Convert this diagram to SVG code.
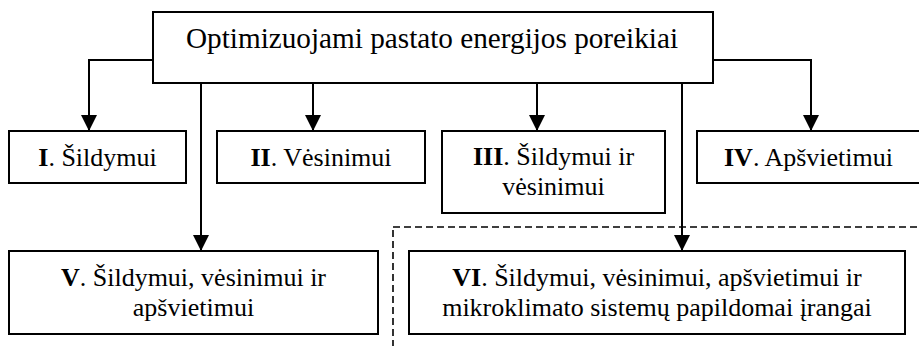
<svg xmlns="http://www.w3.org/2000/svg" width="919" height="346" viewBox="0 0 919 346">
<style>
.box{fill:#fff;stroke:#000;stroke-width:2}
.dash{fill:none;stroke:#000;stroke-width:1.6;stroke-dasharray:7 4}
.con{fill:none;stroke:#000;stroke-width:2}
.t{font-family:'Liberation Serif','Times New Roman',Tinos,'DejaVu Serif',serif;font-size:26px;fill:#000;text-anchor:middle}
.b{font-weight:bold}
</style>
<defs>
<marker id="arr" markerUnits="userSpaceOnUse" markerWidth="16" markerHeight="16" viewBox="0 0 16 16" refX="16" refY="8" orient="auto">
<path d="M0,0 L16,8 L0,16 Z" fill="#000"/>
</marker>
</defs>
<rect class="dash" x="393" y="227" width="560" height="160"/>
<g id="connectors">
<polyline class="con" points="153,60 89,60 89,131" marker-end="url(#arr)"/>
<line class="con" x1="313" y1="83" x2="313" y2="131" marker-end="url(#arr)"/>
<line class="con" x1="201" y1="83" x2="201" y2="251" marker-end="url(#arr)"/>
<line class="con" x1="537" y1="83" x2="537" y2="131" marker-end="url(#arr)"/>
<line class="con" x1="682" y1="83" x2="682" y2="251" marker-end="url(#arr)"/>
<polyline class="con" points="713,60 811,60 811,131" marker-end="url(#arr)"/>
</g>
<g id="top">
<rect class="box" x="153" y="12" width="560" height="71"/>
<text class="t" x="432" y="48" style="font-size:29px" textLength="492" lengthAdjust="spacingAndGlyphs">Optimizuojami pastato energijos poreikiai</text>
</g>
<g id="n1">
<rect class="box" x="9" y="131" width="177" height="52"/>
<text class="t" x="97.5" y="166"><tspan class="b">I</tspan>. Šildymui</text>
</g>
<g id="n2">
<rect class="box" x="217" y="131" width="208" height="52"/>
<text class="t" x="321" y="166"><tspan class="b">II</tspan>. Vėsinimui</text>
</g>
<g id="n3">
<rect class="box" x="442" y="131" width="223" height="82"/>
<text class="t" x="553.5" y="165"><tspan class="b">III</tspan>. Šildymui ir</text>
<text class="t" x="553.5" y="195">vėsinimui</text>
</g>
<g id="n4">
<rect class="box" x="697" y="131" width="223" height="52"/>
<text class="t" x="808.5" y="166"><tspan class="b">IV</tspan>. Apšvietimui</text>
</g>
<g id="n5">
<rect class="box" x="9" y="251" width="369" height="83"/>
<text class="t" x="193.5" y="286"><tspan class="b">V</tspan>. Šildymui, vėsinimui ir</text>
<text class="t" x="193.5" y="316">apšvietimui</text>
</g>
<g id="n6">
<rect class="box" x="409" y="251" width="496" height="83"/>
<text class="t" x="657" y="286"><tspan class="b">VI</tspan>. Šildymui, vėsinimui, apšvietimui ir</text>
<text class="t" x="657" y="316">mikroklimato sistemų papildomai įrangai</text>
</g>
</svg>
